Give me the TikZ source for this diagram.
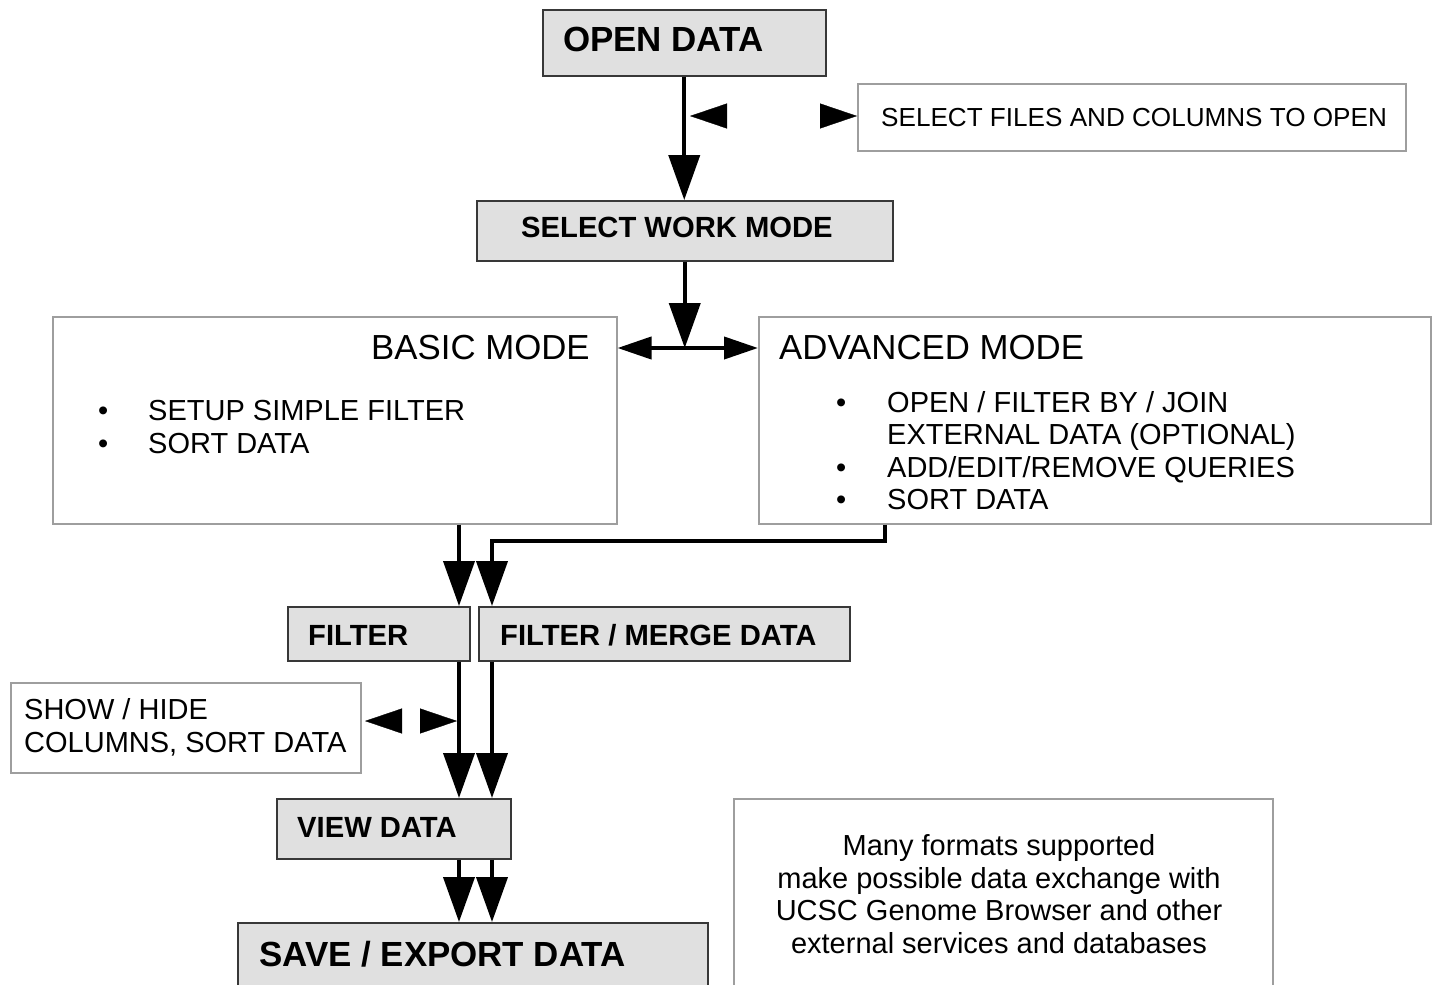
\documentclass[tikz,border=0pt]{standalone}
\usepackage{fontspec}
\setmainfont{Liberation Sans}
\usetikzlibrary{arrows.meta,calc}
\begin{document}
\begin{tikzpicture}[x=1pt,y=-1pt,
  box/.style={rectangle, anchor=north west, inner sep=0pt, line width=1.5pt},
  graybox/.style={box, draw=black!78, fill=black!12},
  whitebox/.style={box, draw=black!38, fill=white},
  txt/.style={anchor=base west, inner sep=0pt},
  bigbold/.style={txt, font=\fontsize{34.9}{40}\selectfont\bfseries},
  midbold/.style={txt, font=\fontsize{29.2}{33}\selectfont\bfseries},
  title/.style={txt, font=\fontsize{34.8}{40}\selectfont},
  body/.style={txt, font=\fontsize{29}{33}\selectfont},
  small/.style={txt, font=\fontsize{26.1}{30}\selectfont},
  arr/.style={line width=4pt, line join=miter, -{Triangle[length=45pt,width=31pt]}},
  darr/.style={line width=4pt, {Triangle[length=34pt,width=22pt]}-{Triangle[length=34pt,width=22pt]}},
  ghost/.style={draw=white, line width=0.3pt, {Triangle[length=37pt,width=25pt,black]}-{Triangle[length=37pt,width=25pt,black]}},
  ]
\useasboundingbox (0,0) rectangle (1432,985);
\clip (0,0) rectangle (1432,985);

% boxes
\node[graybox, minimum width=283pt, minimum height=66pt] (open) at (542,9) {};
\node[whitebox, minimum width=548pt, minimum height=67pt] (sel) at (857,83) {};
\node[graybox, minimum width=416pt, minimum height=60pt] (swm) at (476,200) {};
\node[whitebox, minimum width=564pt, minimum height=207pt] (basic) at (52,316) {};
\node[whitebox, minimum width=672pt, minimum height=207pt] (adv) at (758,316) {};
\node[graybox, minimum width=182pt, minimum height=54pt] (filter) at (287,606) {};
\node[graybox, minimum width=371pt, minimum height=54pt] (fm) at (478,606) {};
\node[whitebox, minimum width=350pt, minimum height=90pt] (show) at (10,682) {};
\node[graybox, minimum width=234pt, minimum height=60pt] (view) at (276,798) {};
\node[graybox, minimum width=470pt, minimum height=90pt] (save) at (237,922) {};
\node[whitebox, minimum width=539pt, minimum height=220pt] (many) at (733,798) {};

% texts
\node[bigbold] (t-open) at (563,51) {OPEN DATA};
\node[small] (t-sel) at (881,126) {SELECT FILES AND COLUMNS TO OPEN};
\node[midbold] (t-swm) at (521,237) {SELECT WORK MODE};
\node[title] (t-basic) at (371,359) {BASIC MODE};
\node[body] (b-b1) at (98,420) {•};
\node[body] (t-b1) at (148,420) {SETUP SIMPLE FILTER};
\node[body] (b-b2) at (98,453) {•};
\node[body] (t-b2) at (148,453) {SORT DATA};
\node[title] (t-adv) at (779,359) {ADVANCED MODE};
\node[body] (b-a1) at (836,412) {•};
\node[body] (t-a1) at (887,412) {OPEN / FILTER BY / JOIN};
\node[body] (t-a1b) at (887,444) {EXTERNAL DATA (OPTIONAL)};
\node[body] (b-a2) at (836,477) {•};
\node[body] (t-a2) at (887,477) {ADD/EDIT/REMOVE QUERIES};
\node[body] (b-a3) at (836,509) {•};
\node[body] (t-a3) at (887,509) {SORT DATA};
\node[midbold] (t-filter) at (308,645) {FILTER};
\node[midbold] (t-fm) at (500,645) {FILTER / MERGE DATA};
\node[body] (t-show1) at (24,719) {SHOW / HIDE};
\node[body] (t-show2) at (24,752) {COLUMNS, SORT DATA};
\node[midbold] (t-view) at (297,837) {VIEW DATA};
\node[bigbold] (t-save) at (259,966) {SAVE / EXPORT DATA};
\node[body, anchor=base] (t-m1) at (999,855) {Many formats supported};
\node[body, anchor=base] (t-m2) at (999,888) {make possible data exchange with};
\node[body, anchor=base] (t-m3) at (999,920) {UCSC Genome Browser and other};
\node[body, anchor=base] (t-m4) at (999,953) {external services and databases};

% helper coordinates
\coordinate (j) at (684,348);
\coordinate (cL) at (459,0);
\coordinate (cR) at (492,0);
\coordinate (cA) at (885,541);
\coordinate (s1) at (690,116);
\coordinate (s2) at (365,721);
\coordinate (s3) at (457,721);

% connectors
\draw[arr] (open.south) -- (open.south |- swm.north);
\draw[ghost] (s1) -- (s1 -| sel.west);
\draw[arr] (swm.south) -- (swm.south |- j);
\draw[darr] (basic.east |- j) -- (adv.west |- j);
\draw[arr] (basic.south -| cL) -- (filter.north -| cL);
\draw[arr] (adv.south -| cA) -- (cA) -- (cR |- cA) -- (fm.north -| cR);
\draw[arr] (filter.south -| cL) -- (view.north -| cL);
\draw[arr] (fm.south -| cR) -- (view.north -| cR);
\draw[ghost] (s2) -- (s3);
\draw[arr] (view.south -| cL) -- (save.north -| cL);
\draw[arr] (view.south -| cR) -- (save.north -| cR);
\end{tikzpicture}
\end{document}
